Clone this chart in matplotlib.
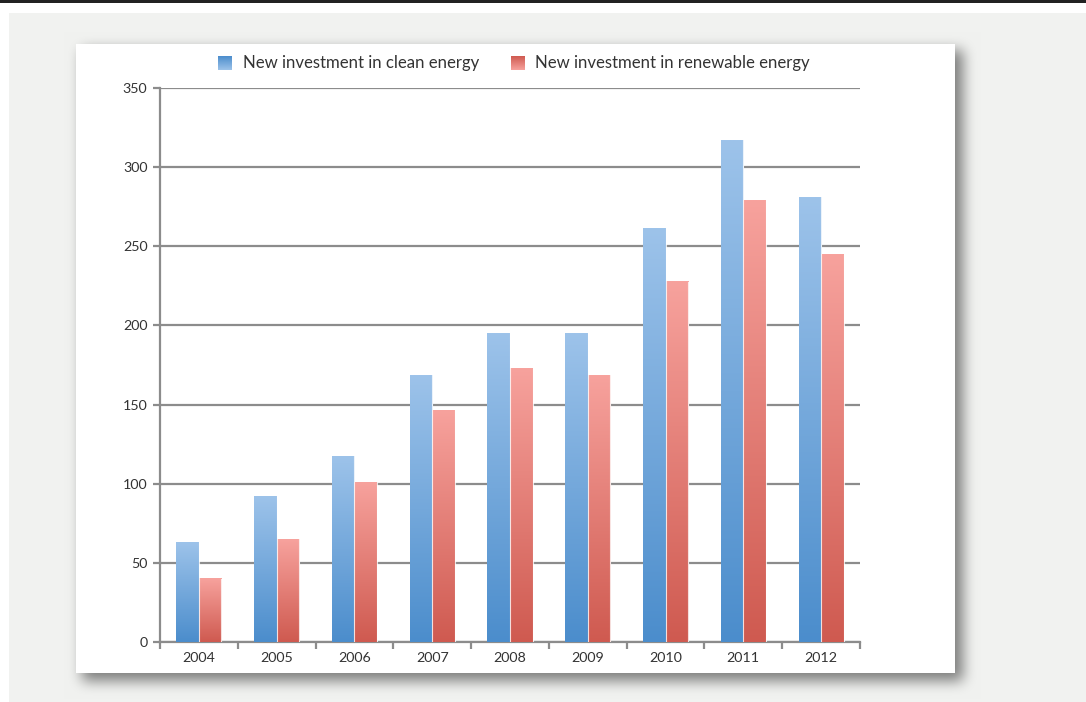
import matplotlib
matplotlib.use("Agg")
import matplotlib.pyplot as plt
import numpy as np
from matplotlib.colors import LinearSegmentedColormap

plt.rcParams["font.family"] = ["Lato", "DejaVu Sans"]

years = ["2004", "2005", "2006", "2007", "2008", "2009", "2010", "2011", "2012"]
clean_energy = [63, 92, 117.5, 168.5, 195, 195, 261.5, 317, 281]
renewable_energy = [40, 65, 100.5, 146.5, 172.5, 168.5, 227.5, 279, 244.5]
series_labels = ["New investment in clean energy", "New investment in renewable energy"]

W, H = 1086, 702
fig = plt.figure(figsize=(W / 100, H / 100), dpi=100)


def box_blur(a, r):
    # separable box blur, applied three times for a soft gaussian-like falloff
    for _ in range(3):
        for axis in (0, 1):
            c = np.cumsum(np.pad(a, [(r + 1, r) if i == axis else (0, 0) for i in range(2)], mode="edge"), axis=axis)
            if axis == 0:
                a = (c[2 * r + 1:] - c[:-2 * r - 1]) / (2 * r + 1)
            else:
                a = (c[:, 2 * r + 1:] - c[:, :-2 * r - 1]) / (2 * r + 1)
    return a


# page background: dark rule on top, light grey sheet, white card with drop shadow
bg = np.ones((H, W, 3))
bg[13:, 9:] = np.array([241, 242, 240]) / 255
mask = np.zeros((H, W))
px0, py0, px1, py1 = 76, 44, 955, 673
mask[py0 + 6:py1 + 8, px0 + 6:px1 + 8] = 1.0
shadow = box_blur(mask, 6) * 0.48
bg = bg * (1 - shadow[..., None])
bg[13:, :9] = 1.0
bg[:13] = 1.0
bg[py0:py1, px0:px1] = 1.0
bg[0:3] = np.array([34, 34, 34]) / 255

bg_ax = fig.add_axes([0, 0, 1, 1])
bg_ax.imshow(bg, extent=(0, W, H, 0), interpolation="bilinear")
bg_ax.axis("off")

blue_cmap = LinearSegmentedColormap.from_list("blue", ["#4b8dcc", "#9dc3ea"])
red_cmap = LinearSegmentedColormap.from_list("red", ["#cf5a50", "#f7a29d"])
grad = np.linspace(0, 1, 256).reshape(-1, 1)

ax = fig.add_axes([160 / W, 1 - 642 / H, 700 / W, 554 / H])

bar_w = 0.29
x = np.arange(len(years)) + 0.5
for values, cmap, offset in ((clean_energy, blue_cmap, -bar_w / 2), (renewable_energy, red_cmap, bar_w / 2)):
    for xi, v in zip(x, values):
        left = xi + offset - bar_w / 2
        ax.imshow(grad, cmap=cmap, origin="lower", aspect="auto",
                  extent=(left, left + bar_w, 0, v), zorder=3)
        ax.plot([left + bar_w, left + bar_w], [0, v], color="white", lw=0.8, alpha=0.8, zorder=3.5)

ax.set_xlim(0, len(years))
ax.set_ylim(0, 350)

grid_color = "#8c8c8c"
ax.set_yticks(np.arange(0, 351, 50))
ax.yaxis.grid(True, color=grid_color, lw=1.6, zorder=1)
ax.set_axisbelow(True)
ax.set_xticks(np.arange(0, len(years) + 1))
ax.set_xticklabels([])
ax.set_xticks(x, minor=True)
ax.set_xticklabels(years, minor=True)
ax.tick_params(axis="x", which="minor", length=0, pad=7, labelsize=10.3, labelcolor="#333333")
ax.tick_params(axis="x", which="major", length=5, width=1.6, color=grid_color)
ax.tick_params(axis="y", length=5, width=1.6, color=grid_color, pad=4, labelsize=10.3, labelcolor="#333333")
for side in ("top", "right"):
    ax.spines[side].set_visible(False)
for side in ("left", "bottom"):
    ax.spines[side].set_color(grid_color)
    ax.spines[side].set_linewidth(1.6)

# legend across the top of the card
for (sx, tx), cmap, label in zip(((218, 243), (511, 535)), (blue_cmap, red_cmap), series_labels):
    bg_ax.imshow(grad, cmap=cmap, origin="upper", aspect="auto",
                 extent=(sx, sx + 14, 70, 56), zorder=3)
    bg_ax.text(tx, 63, label, fontsize=12.1, color="#333333", va="center", ha="left")
bg_ax.set_xlim(0, W)
bg_ax.set_ylim(H, 0)

fig.savefig("out.png", dpi=100)
